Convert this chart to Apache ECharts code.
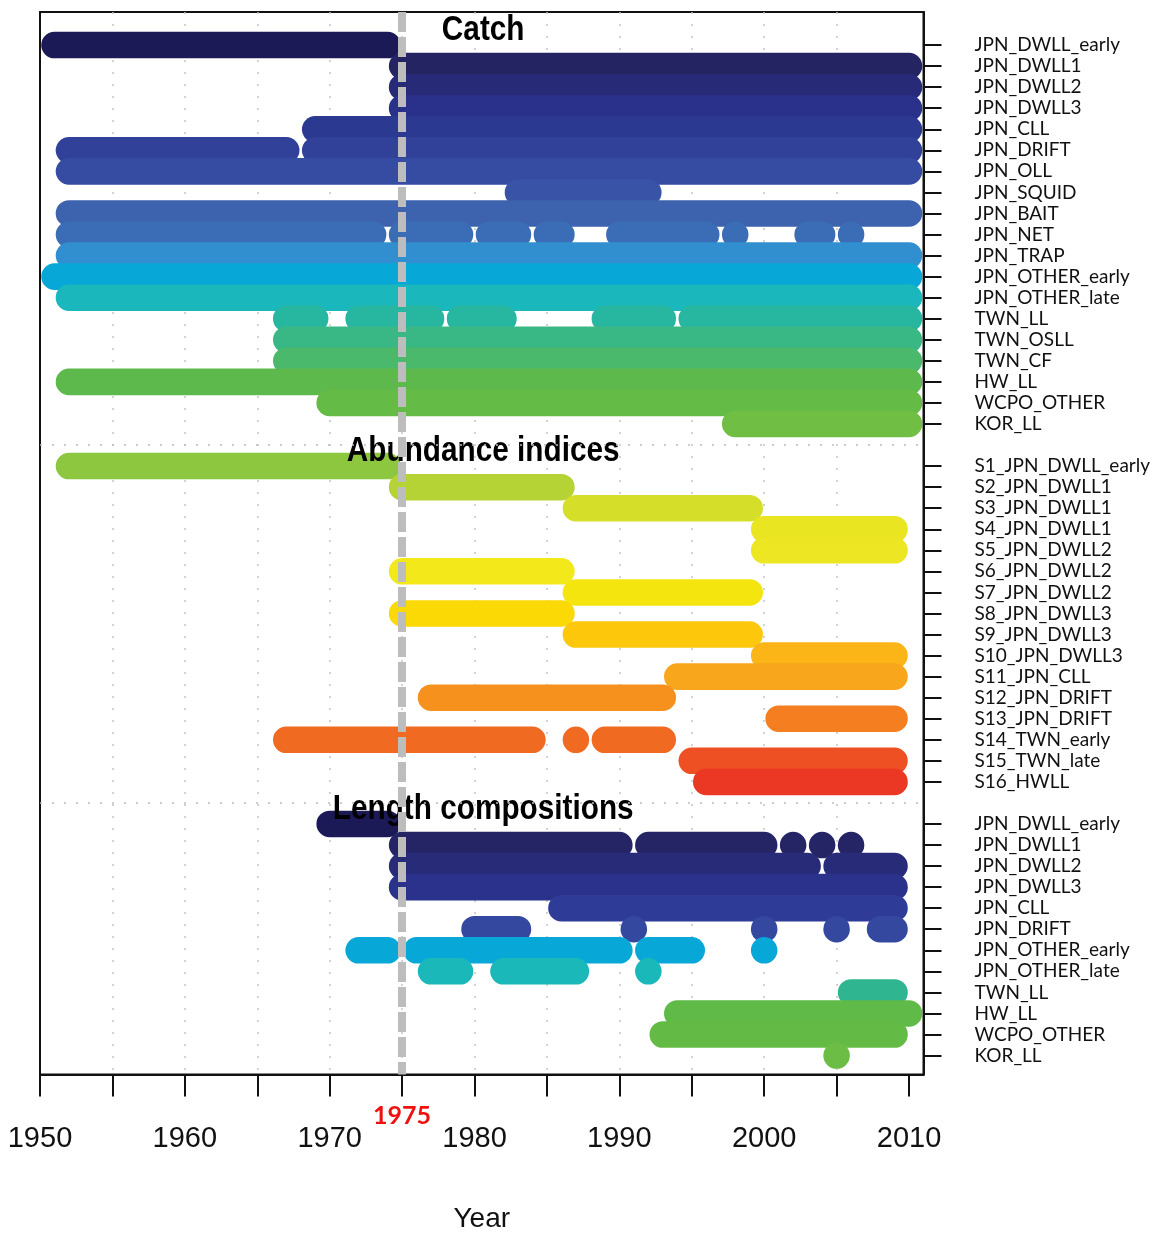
<!DOCTYPE html>
<html><head><meta charset="utf-8">
<script src="https://cdn.jsdelivr.net/npm/echarts@6/dist/echarts.min.js"></script>
<style>html,body{margin:0;padding:0;background:#fff}#chart{width:1158px;height:1237px}</style>
</head><body><div id="chart"></div>
<script>
// ---------- DATA ----------
const catchLabels = ['JPN_DWLL_early','JPN_DWLL1','JPN_DWLL2','JPN_DWLL3','JPN_CLL','JPN_DRIFT','JPN_OLL','JPN_SQUID','JPN_BAIT','JPN_NET','JPN_TRAP','JPN_OTHER_early','JPN_OTHER_late','TWN_LL','TWN_OSLL','TWN_CF','HW_LL','WCPO_OTHER','KOR_LL'];
const catchYears = [
  [[1951,1974]],
  [[1975,2010]],
  [[1975,2010]],
  [[1975,2010]],
  [[1969,2010]],
  [[1952,1967],[1969,2010]],
  [[1952,2010]],
  [[1983,1992]],
  [[1952,2010]],
  [[1952,1973],[1975,1979],[1981,1983],[1985,1986],[1990,1996],[1998,1998],[2003,2004],[2006,2006]],
  [[1952,2010]],
  [[1951,2010]],
  [[1952,2010]],
  [[1967,1969],[1972,1977],[1979,1982],[1989,1993],[1995,2010]],
  [[1967,2010]],
  [[1967,2010]],
  [[1952,2010]],
  [[1970,2010]],
  [[1998,2010]]
];
const indexLabels = ['S1_JPN_DWLL_early','S2_JPN_DWLL1','S3_JPN_DWLL1','S4_JPN_DWLL1','S5_JPN_DWLL2','S6_JPN_DWLL2','S7_JPN_DWLL2','S8_JPN_DWLL3','S9_JPN_DWLL3','S10_JPN_DWLL3','S11_JPN_CLL','S12_JPN_DRIFT','S13_JPN_DRIFT','S14_TWN_early','S15_TWN_late','S16_HWLL'];
const indexYears = [
  [[1952,1974]],
  [[1975,1986]],
  [[1987,1999]],
  [[2000,2009]],
  [[2000,2009]],
  [[1975,1986]],
  [[1987,1999]],
  [[1975,1986]],
  [[1987,1999]],
  [[2000,2009]],
  [[1994,2009]],
  [[1977,1993]],
  [[2001,2009]],
  [[1967,1984],[1987,1987],[1989,1993]],
  [[1995,2009]],
  [[1996,2009]]
];
const lengthLabels = ['JPN_DWLL_early','JPN_DWLL1','JPN_DWLL2','JPN_DWLL3','JPN_CLL','JPN_DRIFT','JPN_OTHER_early','JPN_OTHER_late','TWN_LL','HW_LL','WCPO_OTHER','KOR_LL'];
const lengthYears = [
  [[1970,1974]],
  [[1975,1990],[1992,2000],[2002,2002],[2004,2004],[2006,2006]],
  [[1975,2003],[2005,2009]],
  [[1975,2009]],
  [[1986,2009]],
  [[1980,1983],[1991,1991],[2000,2000],[2005,2005],[2008,2009]],
  [[1972,1974],[1976,1990],[1992,1995],[2000,2000]],
  [[1977,1979],[1982,1987],[1992,1992]],
  [[2006,2009]],
  [[1994,2010]],
  [[1993,2009]],
  [[2005,2005]]
];
const sectionTitles = ['Catch','Abundance indices','Length compositions'];
const tickYears = [1950,1955,1960,1965,1970,1975,1980,1985,1990,1995,2000,2005,2010];
const labelYears = [1950,1960,1970,1980,1990,2000,2010];
const markYear = 1975;

// ---------- STYLE ----------
const catchColors = ['#1b1a57','#242463','#272a77','#29318a','#2c3991','#31419a','#364ba2','#3953a6','#3d62ae','#3a6db5','#328fcf','#07a8d8','#1ab8bd','#27b6a0','#39b784','#4bb96c','#5db94c','#64bb46','#70bf44'];
const indexColors = ['#8dc63f','#b5d334','#d5df2a','#e9e520','#ece623','#f3e81a','#f5e50e','#fad905','#fdc70c','#fbb517','#f8a61c','#f6911e','#f47e20','#f16a22','#ee5024','#eb3825'];
const lengthColors = ['#1b1a57','#252566','#272b78','#2a328b','#2f3c97','#3548a0','#07a8d8','#1ab8b8','#2fb58f','#5fba47','#63bb46','#6bbd45'];

const arial = "'Liberation Sans',Arial,sans-serif";
const calib = "Lato,'Open Sans',sans-serif";
const yMin = -1.57, yMax = 48.9;
const barThick = 1.26;

const sections = [
  {labels: catchLabels, years: catchYears, colors: catchColors, start: 0},
  {labels: indexLabels, years: indexYears, colors: indexColors, start: 20},
  {labels: lengthLabels, years: lengthYears, colors: lengthColors, start: 37}
];

const rowNames = {};
const rowPos = [];
const barSeries = [];
sections.forEach(function(sec){
  const data = [];
  sec.labels.forEach(function(lab, i){
    const pos = sec.start + i;
    rowNames[pos] = lab;
    rowPos.push(pos);
    sec.years[i].forEach(function(span){
      data.push([span[0], span[1], pos, i]);
    });
  });
  barSeries.push({
    type: 'custom',
    coordinateSystem: 'cartesian2d',
    silent: true,
    z: 2,
    encode: {x: [0, 1], y: 2},
    renderItem: function(params, api){
      const y = api.value(2);
      const p0 = api.coord([api.value(0), y]);
      const p1 = api.coord([api.value(1), y]);
      const h = api.size([0, barThick])[1];
      return {type: 'rect',
        shape: {x: p0[0] - h/2, y: p0[1] - h/2, width: p1[0] - p0[0] + h, height: h, r: h/2},
        style: {fill: sec.colors[api.value(3)]}};
    },
    data: data
  });
});

const titleData = sectionTitles.map(function(t, i){ return [1980.6, sections[i].start - 0.7, i]; });

const chart = echarts.init(document.getElementById('chart'), null, {renderer: 'canvas'});
chart.setOption({
  animation: false,
  backgroundColor: '#ffffff',
  grid: {left: 40, right: 234.5, top: 12, bottom: 162.5, show: true, borderColor: '#111', borderWidth: 2, backgroundColor: 'transparent', containLabel: false, outerBoundsMode: 'none'},
  xAxis: [
    {type: 'value', min: 1950, max: 2011, interval: 5, position: 'bottom',
     axisLine: {show: true, onZero: false, lineStyle: {color: '#111', width: 2}},
     axisTick: {show: true, inside: false, length: 22, customValues: tickYears, lineStyle: {color: '#111', width: 2}},
     axisLabel: {customValues: labelYears, margin: 50, fontFamily: arial, fontSize: 29, color: '#111',
       formatter: function(v){ return String(v); }},
     splitLine: {show: true, showMinLine: false, showMaxLine: false, lineStyle: {color: '#c4c4c4', width: 1.5, type: [2, 10]}},
     name: 'Year', nameLocation: 'middle', nameGap: 131,
     nameTextStyle: {fontFamily: arial, fontSize: 28, color: '#111'}
    },
    {type: 'value', min: 1950, max: 2011, position: 'bottom',
     axisLine: {show: false}, axisTick: {show: false}, splitLine: {show: false},
     axisLabel: {customValues: [markYear], margin: 29, color: '#ee1111', fontWeight: 'bold', fontFamily: calib, fontSize: 25,
       formatter: function(v){ return String(v); }}
    }
  ],
  yAxis: {type: 'value', inverse: true, min: yMin, max: yMax, position: 'right',
    axisLine: {show: true, onZero: false, lineStyle: {color: '#111', width: 2}},
    axisTick: {show: true, inside: false, length: 18, customValues: rowPos, lineStyle: {color: '#111', width: 2}},
    axisLabel: {customValues: rowPos, margin: 51, fontFamily: calib, fontSize: 19, color: '#111', align: 'left',
      formatter: function(v){ return rowNames[Math.round(v)] || ''; }},
    splitLine: {show: false}
  },
  series: barSeries.concat([
    {type: 'line', data: [], silent: true, z: 1,
     markLine: {silent: true, symbol: 'none', label: {show: false},
       lineStyle: {color: '#bdbdbd', width: 1.5, type: [2, 10]},
       data: [{yAxis: 19}, {yAxis: 36}]}},
    {type: 'custom', coordinateSystem: 'cartesian2d', silent: true, z: 4,
     encode: {x: 0, y: 1},
     renderItem: function(params, api){
       const p = api.coord([api.value(0), api.value(1)]);
       return {type: 'text', x: p[0], y: p[1], scaleX: 0.85, scaleY: 1,
         style: {x: 0, y: 0, text: sectionTitles[api.value(2)], fill: '#000',
         font: 'bold 35px ' + arial, align: 'center', verticalAlign: 'middle'}};
     },
     data: titleData},
    {type: 'line', data: [], silent: true, z: 6,
     markLine: {silent: true, symbol: 'none', label: {show: false},
       lineStyle: {color: '#bdbdbd', width: 8, type: [20, 5], opacity: 1},
       data: [{xAxis: markYear}]}}
  ])
});
</script></body></html>
